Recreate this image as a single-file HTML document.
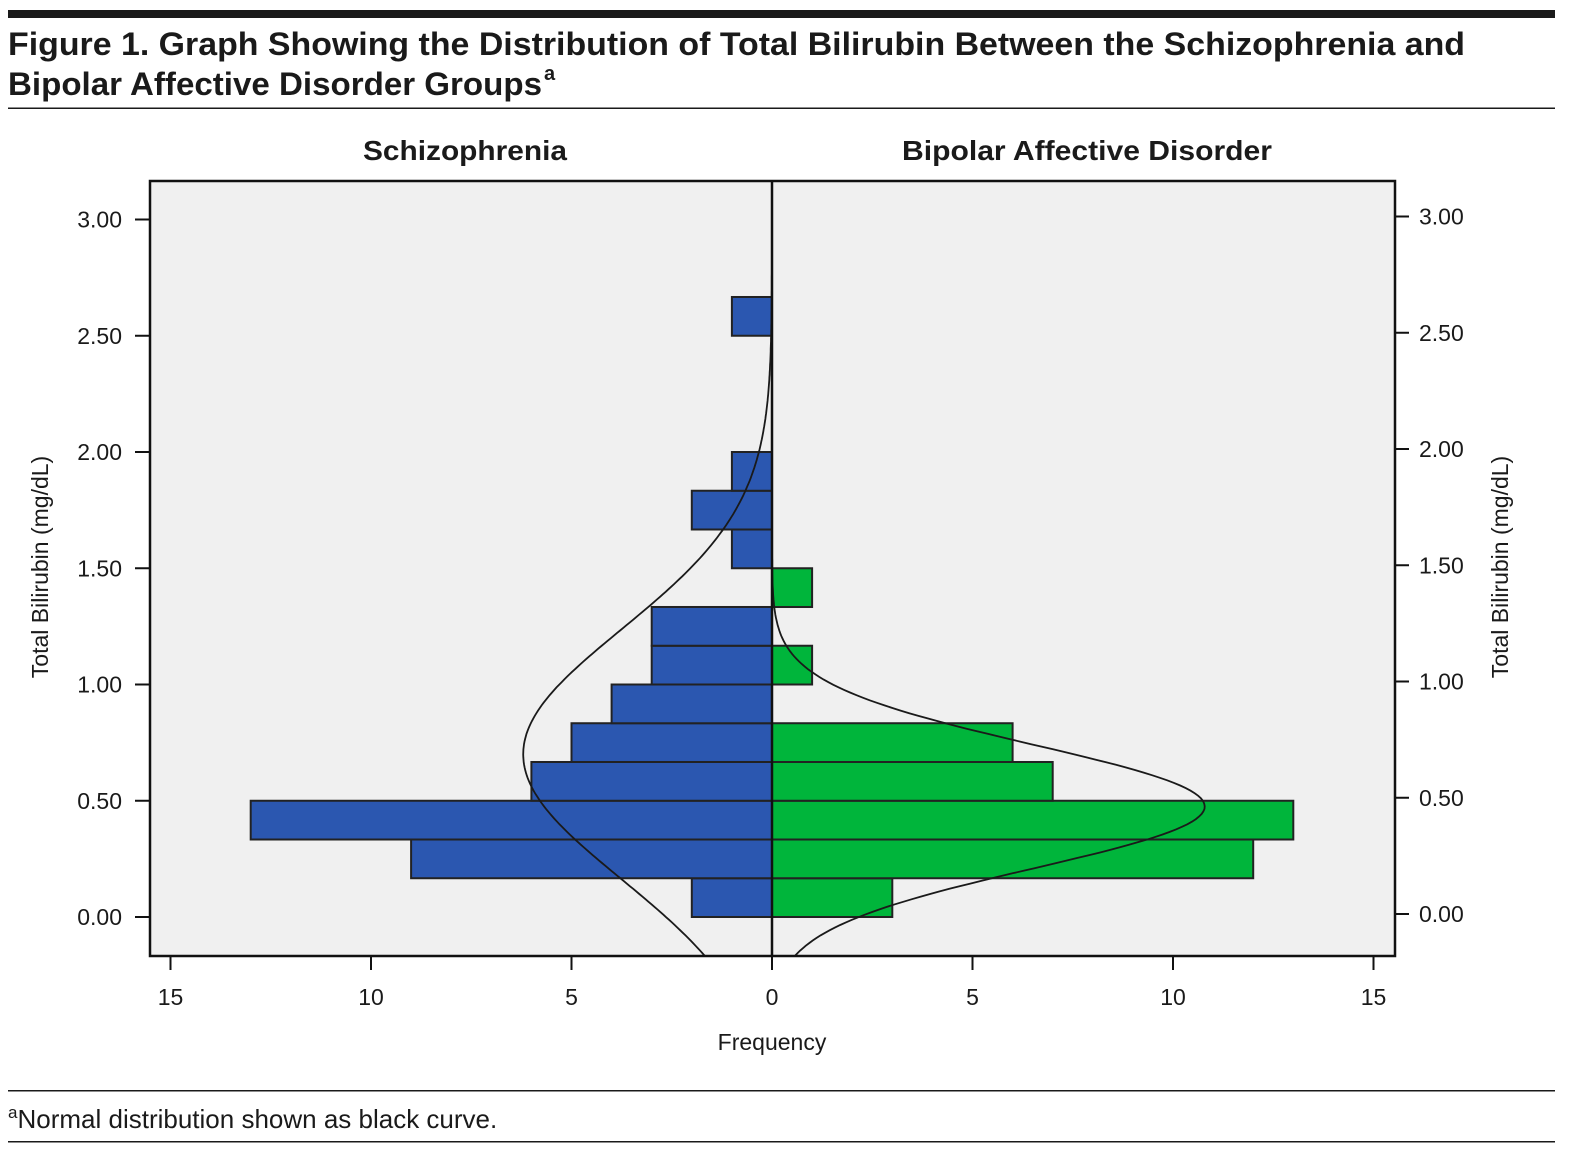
<!DOCTYPE html>
<html><head><meta charset="utf-8"><style>
body{margin:0;background:#fff;}
svg{display:block;font-family:"Liberation Sans",sans-serif;}
</style></head><body>
<svg id="chart" width="1587" height="1155" viewBox="0 0 1587 1155" xmlns="http://www.w3.org/2000/svg">
<rect x="8" y="10" width="1547" height="8" fill="#1a1a1a"/>
<text x="8" y="55" font-size="32" font-weight="bold" fill="#1a1a1a" textLength="1457" lengthAdjust="spacingAndGlyphs">Figure 1. Graph Showing the Distribution of Total Bilirubin Between the Schizophrenia and</text>
<text x="8" y="95" font-size="32" font-weight="bold" fill="#1a1a1a" textLength="534" lengthAdjust="spacingAndGlyphs">Bipolar Affective Disorder Groups</text>
<text x="544" y="80" font-size="20" font-weight="bold" fill="#1a1a1a">a</text>
<rect x="8" y="107.5" width="1547" height="1.5" fill="#1a1a1a"/>
<text x="465" y="160" font-size="28" font-weight="bold" text-anchor="middle" fill="#1a1a1a" textLength="204" lengthAdjust="spacingAndGlyphs">Schizophrenia</text>
<text x="1087" y="160" font-size="28" font-weight="bold" text-anchor="middle" fill="#1a1a1a" textLength="370" lengthAdjust="spacingAndGlyphs">Bipolar Affective Disorder</text>
<rect x="150" y="181" width="1245" height="775" fill="#f0f0f0"/>
<g id="marks"></g>
<rect x="150" y="181" width="1245" height="775" fill="none" stroke="#111" stroke-width="2.5"/>
<g id="axes"></g>
<text transform="translate(48,567) rotate(-90)" font-size="23" text-anchor="middle" fill="#1a1a1a">Total Bilirubin (mg/dL)</text>
<text transform="translate(1508,567) rotate(-90)" font-size="23" text-anchor="middle" fill="#1a1a1a">Total Bilirubin (mg/dL)</text>
<text x="772" y="1050" font-size="23" text-anchor="middle" fill="#1a1a1a">Frequency</text>
<rect x="8" y="1090" width="1547" height="1.5" fill="#1a1a1a"/>
<text x="8" y="1128" font-size="26" fill="#1a1a1a"><tspan font-size="17" dy="-10">a</tspan><tspan dy="10">Normal distribution shown as black curve.</tspan></text>
<rect x="8" y="1141" width="1547" height="1.5" fill="#1a1a1a"/>
</svg>
<script>
const binStarts = [0,0.1667,0.3333,0.5,0.6667,0.8333,1.0,1.1667,1.3333,1.5,1.6667,1.8333,2.0,2.1667,2.3333,2.5];
const schizoCounts = [2,9,13,6,5,4,3,3,0,1,2,1,0,0,0,1];
const bipolarCounts = [3,12,13,7,6,0,1,0,1,0,0,0,0,0,0,0];
const binWidth = 0.1667;
const curveMeans = [0.70, 0.475];
const curveSDs = [0.536, 0.265];
const curveNs = [50, 43];
const yTicks = [0,0.5,1,1.5,2,2.5,3];
const yTickLabels = ["0.00","0.50","1.00","1.50","2.00","2.50","3.00"];
const xTicks = [15,10,5,0,5,10,15];
const xTickSides = [-1,-1,-1,0,1,1,1];

const NS = "http://www.w3.org/2000/svg";
const cx = 772, pxPerF = 40.1, y0 = 917, pxPerV = 232.5;
const plotTop = 181, plotBot = 956, plotLeft = 150, plotRight = 1395;
function xs(f, side){ return cx + side * f * pxPerF; }
function ys(v){ return y0 - v * pxPerV; }
function mk(tag, attrs){ const e = document.createElementNS(NS, tag); for (const k in attrs) e.setAttribute(k, attrs[k]); return e; }
const marks = document.getElementById('marks');
const axes = document.getElementById('axes');

binStarts.forEach((b, i) => {
  const yt = ys(b + binWidth), yb = ys(b);
  if (schizoCounts[i] > 0) {
    const r = mk('rect', {x: xs(schizoCounts[i], -1), y: yt, width: cx - xs(schizoCounts[i], -1), height: yb - yt, fill: '#2b57b0', stroke: '#222', 'stroke-width': 2});
    
    
    marks.appendChild(r);
  }
  if (bipolarCounts[i] > 0) {
    const r = mk('rect', {x: cx, y: yt, width: xs(bipolarCounts[i], 1) - cx, height: yb - yt, fill: '#00b53b', stroke: '#222', 'stroke-width': 2});
    
    
    marks.appendChild(r);
  }
});

[-1, 1].forEach((side, k) => {
  const m = curveMeans[k], s = curveSDs[k], n = curveNs[k];
  const peak = n * binWidth / (s * Math.sqrt(2 * Math.PI));
  let d = '';
  const vMin = (y0 - plotBot) / pxPerV, vMax = (y0 - plotTop) / pxPerV;
  for (let j = 0; j <= 300; j++) {
    const v = vMin + (vMax - vMin) * j / 300;
    const f = peak * Math.exp(-0.5 * ((v - m) / s) ** 2);
    d += (j ? 'L' : 'M') + xs(f, side).toFixed(1) + ',' + ys(v).toFixed(1);
  }
  const p = mk('path', {d: d, fill: 'none', stroke: '#1a1a1a', 'stroke-width': 1.8});
  
  
  marks.appendChild(p);
});

const mid = mk('line', {x1: cx, x2: cx, y1: plotTop, y2: plotBot, stroke: '#111', 'stroke-width': 2.5});


marks.appendChild(mid);

yTicks.forEach((v, i) => {
  const y = ys(v);
  const t1 = mk('line', {x1: 135, x2: plotLeft, y1: y, y2: y, stroke: '#111', 'stroke-width': 2});
  
  
  axes.appendChild(t1);
  const l1 = mk('text', {x: 122, y: y + 8, 'font-size': 23, 'text-anchor': 'end', fill: '#1a1a1a'});
  l1.textContent = yTickLabels[i];
  
  
  axes.appendChild(l1);
  const yr = y - 3;
  const t2 = mk('line', {x1: plotRight, x2: 1409, y1: yr, y2: yr, stroke: '#111', 'stroke-width': 2});
  
  
  axes.appendChild(t2);
  const l2 = mk('text', {x: 1419, y: yr + 8, 'font-size': 23, fill: '#1a1a1a'});
  l2.textContent = yTickLabels[i];
  
  
  axes.appendChild(l2);
});

xTicks.forEach((f, i) => {
  const x = xs(f, xTickSides[i] === 0 ? 1 : xTickSides[i]);
  const t = mk('line', {x1: x, x2: x, y1: plotBot, y2: 970, stroke: '#111', 'stroke-width': 2});
  
  
  axes.appendChild(t);
  const l = mk('text', {x: x, y: 1005, 'font-size': 23, 'text-anchor': 'middle', fill: '#1a1a1a'});
  l.textContent = String(f);
  
  
  axes.appendChild(l);
});
</script>
</body></html>
